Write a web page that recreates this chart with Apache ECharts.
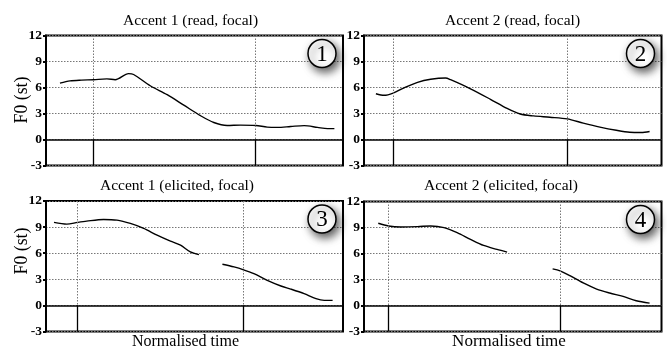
<!DOCTYPE html>
<html><head><meta charset="utf-8">
<script src="https://cdn.jsdelivr.net/npm/echarts@6/dist/echarts.min.js"></script>
<style>html,body{margin:0;padding:0;background:#fff}#c{width:667px;height:349px}</style>
</head><body><div id="c"></div>
<script>
// ---- data ----
const yMin = -3, yMax = 12, yStep = 3;
const panelTitles = ['Accent 1 (read, focal)', 'Accent 2 (read, focal)', 'Accent 1 (elicited, focal)', 'Accent 2 (elicited, focal)'];
const panelNumbers = ['1', '2', '3', '4'];
const yName = 'F0 (st)';
const xName = 'Normalised time';

// boundary markers (normalised time, 0-100)
const p1Bounds = [16.0, 70.6];
const p2Bounds = [9.8, 68.3];
const p3Bounds = [10.6, 66.3];
const p4Bounds = [8.2, 65.9];

// panel 1
const p1Time = [4.7, 8.1, 12, 16.0, 20.5, 23.3, 27.8, 29.5, 35.1, 40.8, 46.4, 52.0, 56.5, 61.0, 65.5, 70.6, 74.5, 77.9, 82.4, 86.9, 91.4, 94.8, 97.1];
const p1F0 = [6.5, 6.76, 6.85, 6.9, 7.0, 6.9, 7.6, 7.5, 6.2, 5.17, 3.96, 2.75, 1.96, 1.62, 1.66, 1.62, 1.43, 1.4, 1.5, 1.6, 1.4, 1.25, 1.25];
// panel 2
const p2Time = [4.0, 6.8, 9.8, 13.5, 18.0, 22.4, 27.4, 29.1, 35.8, 42.5, 48.1, 52.5, 57.0, 62.5, 68.3, 73.7, 79.3, 84.8, 89.3, 93.2, 96.0];
const p2F0 = [5.28, 5.1, 5.36, 5.96, 6.6, 6.95, 7.1, 6.9, 5.85, 4.64, 3.58, 2.94, 2.72, 2.57, 2.38, 1.89, 1.43, 1.06, 0.83, 0.8, 0.92];
// panel 3 (two voiced stretches)
const p3TimeA = [2.7, 7.0, 10.6, 13.7, 19.4, 23.9, 28.4, 32.9, 37.4, 41.9, 45.3, 48.6, 51.5];
const p3F0A = [9.54, 9.34, 9.54, 9.69, 9.88, 9.8, 9.42, 8.85, 8.07, 7.38, 6.92, 6.15, 5.84];
const p3TimeB = [59.4, 63.3, 66.3, 70.0, 74.5, 79.1, 82.4, 86.9, 90.9, 93.7, 96.5];
const p3F0B = [4.73, 4.42, 4.12, 3.65, 2.88, 2.23, 1.88, 1.35, 0.77, 0.58, 0.58];
// panel 4 (two voiced stretches)
const p4TimeA = [4.8, 8.2, 12.4, 18.0, 22.4, 26.9, 31.3, 35.8, 40.2, 44.7, 48.1];
const p4F0A = [9.49, 9.18, 9.06, 9.1, 9.18, 8.99, 8.41, 7.63, 6.93, 6.47, 6.16];
const p4TimeB = [63.4, 65.9, 69.2, 73.7, 78.2, 82.6, 87.1, 91.5, 96.0];
const p4F0B = [4.23, 4.0, 3.45, 2.6, 1.9, 1.44, 1.05, 0.55, 0.28];

// ---- layout ----
const grids = [
  {left: 46, top: 35.5, width: 297, height: 130},
  {left: 364, top: 35.5, width: 297.5, height: 130},
  {left: 46, top: 201, width: 297, height: 130.5},
  {left: 364, top: 201.5, width: 297.5, height: 130}
];
const titleCenters = [[190.5, 20.5], [512.5, 20.5], [177, 186], [501, 186]];
const titleSizes = [15.5, 15.5, 15.5, 15.5];
const xNameSpots = [[185.5, 341.5, 16], [509, 341.5, 17]];
const serif = 'Liberation Serif';

const zip = (a, b) => a.map((v, i) => [v, b[i]]);
const panels = [
  {segs: [[p1Time, p1F0]], bounds: p1Bounds},
  {segs: [[p2Time, p2F0]], bounds: p2Bounds},
  {segs: [[p3TimeA, p3F0A], [p3TimeB, p3F0B]], bounds: p3Bounds},
  {segs: [[p4TimeA, p4F0A], [p4TimeB, p4F0B]], bounds: p4Bounds}
];

const option = {
  animation: false,
  backgroundColor: '#fff',
  grid: grids.map(g => Object.assign({show: true, borderColor: '#000', borderWidth: 2, containLabel: false}, g)),
  xAxis: grids.map((g, i) => ({
    gridIndex: i, type: 'value', min: 0, max: 100,
    axisLine: {show: false}, axisTick: {show: false}, axisLabel: {show: false}, splitLine: {show: false}
  })),
  yAxis: grids.map((g, i) => ({
    gridIndex: i, type: 'value', min: yMin, max: yMax, interval: yStep,
    axisLine: {show: true, lineStyle: {color: '#000', width: 2}},
    axisTick: {show: true, length: 3, lineStyle: {color: '#000', width: 2}},
    axisLabel: {margin: 4, fontFamily: serif, fontWeight: 'bold', fontSize: 13.5, color: '#000'},
    splitLine: {show: true, lineStyle: {type: [1.5, 1.5], color: '#777', width: 1}}
  })),
  series: [],
  graphic: []
};

panels.forEach((p, i) => {
  p.segs.forEach((s, k) => {
    const ser = {
      type: 'line', xAxisIndex: i, yAxisIndex: i, data: zip(s[0], s[1]),
      showSymbol: false, smooth: 0.3, silent: true,
      lineStyle: {color: '#000', width: 1.4}
    };
    if (k === 0) {
      const ml = [];
      ml.push([{coord: [0, 0], lineStyle: {type: 'solid', color: '#000', width: 1.5}}, {coord: [100, 0]}]);
      p.bounds.forEach(b => {
        ml.push([{coord: [b, yMax], lineStyle: {type: [1.5, 1.5], color: '#777', width: 1}}, {coord: [b, 0]}]);
        ml.push([{coord: [b, 0], lineStyle: {type: 'solid', color: '#000', width: 1.3}}, {coord: [b, yMin]}]);
      });
      ser.markLine = {silent: true, symbol: ['none', 'none'], label: {show: false}, data: ml, animation: false};
    }
    option.series.push(ser);
  });
  const g = grids[i];
  option.graphic.push({type: 'text', x: titleCenters[i][0], y: titleCenters[i][1], silent: true,
    style: {text: panelTitles[i], fontFamily: serif, fontSize: titleSizes[i], fill: '#000', align: 'center', verticalAlign: 'middle'}});
  const cx = g.left + g.width - 21, cy = g.top + 18;
  option.graphic.push({type: 'circle', shape: {cx: cx, cy: cy, r: 14}, silent: true, z: 10,
    style: {fill: '#fff', stroke: '#000', lineWidth: 1.5, shadowBlur: 8, shadowOffsetX: 3, shadowOffsetY: 4, shadowColor: 'rgba(0,0,0,0.65)'}});
  option.graphic.push({type: 'text', x: cx, y: cy + 1, silent: true, z: 11,
    style: {text: panelNumbers[i], fontFamily: serif, fontSize: 23, fill: '#000', align: 'center', verticalAlign: 'middle'}});
});
[100, 251].forEach(cy => option.graphic.push({type: 'text', x: 22.5, y: cy, rotation: Math.PI / 2, silent: true,
  style: {text: yName, fontFamily: serif, fontSize: 17.8, fill: '#000', align: 'center', verticalAlign: 'middle'}}));
xNameSpots.forEach(s => option.graphic.push({type: 'text', x: s[0], y: s[1], silent: true,
  style: {text: xName, fontFamily: serif, fontSize: s[2], fill: '#000', align: 'center', verticalAlign: 'middle'}}));

const chart = echarts.init(document.getElementById('c'), null, {renderer: 'canvas'});
chart.setOption(option);
</script>
</body></html>
